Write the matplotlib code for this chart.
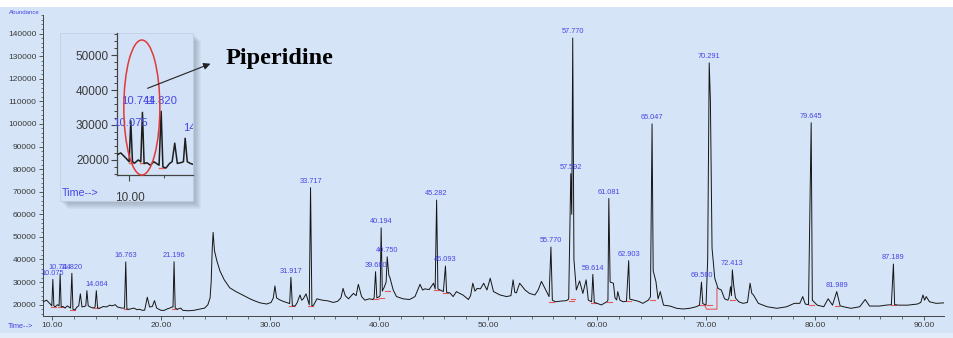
import matplotlib
matplotlib.use('Agg')
import matplotlib.pyplot as plt
import numpy as np
from matplotlib.patches import Rectangle, Ellipse, FancyArrowPatch
from matplotlib import font_manager as fm
from matplotlib.ticker import MultipleLocator, FixedLocator, FuncFormatter

# ---------------- data ----------------
trace = [
    (9.2, 21300), (9.5, 22000), (9.8, 20500), (9.98, 19500), (10.075, 31200), (10.17, 19500),
    (10.3, 19100), (10.5, 20000), (10.65, 19500), (10.744, 33600), (10.84, 19000), (11.0, 19200),
    (11.2, 18500), (11.4, 19500), (11.7, 18500), (11.82, 33900), (11.92, 18000), (12.1, 17700),
    (12.3, 19000), (12.45, 19500), (12.6, 24800), (12.75, 19000), (13.0, 19300), (13.1, 19500),
    (13.2, 26200), (13.32, 19500), (13.5, 19000), (13.8, 18500), (13.95, 19000), (14.064, 26200),
    (14.18, 18500), (14.4, 18500), (14.7, 19200), (15.0, 19000), (15.3, 19800), (15.5, 19500),
    (15.8, 20000), (16.0, 19000), (16.4, 18500), (16.65, 18500), (16.763, 38900), (16.87, 18000),
    (17.1, 18000), (17.5, 18500), (17.8, 17800), (18.0, 18000), (18.3, 17500), (18.5, 17600),
    (18.74, 23300), (18.95, 19000), (19.2, 19200), (19.4, 21800), (19.6, 18500), (19.8, 18000),
    (20.0, 17500), (20.3, 17500), (20.5, 18000), (20.8, 18500), (21.0, 19000), (21.1, 19000),
    (21.196, 39000), (21.3, 18500), (21.5, 18000), (21.8, 18500), (22.0, 17500), (22.5, 17300),
    (23.0, 17500), (23.5, 18000), (24.0, 18500), (24.3, 20000), (24.5, 23000), (24.6, 30000),
    (24.7, 45000), (24.78, 52000), (24.9, 44000), (25.1, 39800), (25.4, 35000), (25.8, 31000),
    (26.3, 27500), (26.8, 26000), (27.2, 25000), (27.8, 23500), (28.2, 22500), (28.7, 21500),
    (29.1, 20800), (29.7, 20300), (30.1, 21000), (30.3, 23000), (30.45, 28300), (30.6, 23000),
    (30.9, 22100), (31.2, 21500), (31.5, 21000), (31.8, 20500), (31.917, 32100), (32.05, 19500),
    (32.3, 19400), (32.5, 21000), (32.75, 24300), (32.9, 22000), (33.05, 22600), (33.3, 24800),
    (33.5, 21500), (33.6, 20000), (33.717, 71800), (33.84, 19500), (34.0, 19800), (34.3, 22600),
    (34.8, 22000), (35.3, 21700), (35.8, 21000), (36.2, 21500), (36.5, 23000), (36.7, 27200),
    (36.9, 24000), (37.2, 22600), (37.65, 25000), (37.9, 24000), (38.1, 29000), (38.4, 23600),
    (38.7, 22000), (39.1, 22600), (39.4, 22300), (39.55, 23000), (39.68, 34600), (39.8, 23000),
    (40.0, 23500), (40.1, 24000), (40.194, 54000), (40.3, 26000), (40.5, 28000), (40.65, 30000),
    (40.75, 41200), (40.9, 33000), (41.0, 32000), (41.3, 26500), (41.6, 23600), (42.2, 22600),
    (42.8, 22300), (43.3, 23600), (43.76, 29000), (44.0, 26500), (44.2, 27000), (44.6, 26700),
    (45.0, 29500), (45.15, 27000), (45.282, 66300), (45.4, 27000), (45.6, 26500), (45.9, 25800),
    (46.093, 37100), (46.2, 25500), (46.5, 25200), (46.8, 23600), (47.1, 25800), (47.4, 25000),
    (47.7, 24300), (48.2, 22300), (48.4, 24000), (48.6, 29500), (48.8, 26000), (49.0, 27200),
    (49.3, 27000), (49.6, 29500), (49.9, 26500), (50.2, 31700), (50.5, 25800), (51.1, 24300),
    (51.7, 23600), (52.1, 24000), (52.3, 31000), (52.45, 25500), (52.6, 25200), (52.9, 29500),
    (53.4, 26500), (53.8, 25000), (54.3, 24300), (54.6, 26500), (54.9, 30300), (55.3, 26500),
    (55.6, 23600), (55.77, 45500), (55.9, 22000), (56.2, 21300), (56.7, 21600), (57.2, 21800),
    (57.4, 22500), (57.592, 78000), (57.68, 60000), (57.77, 138000), (57.88, 40000), (58.1, 26500),
    (58.4, 30500), (58.7, 25000), (59.0, 31000), (59.2, 22000), (59.5, 21300), (59.614, 33400),
    (59.75, 21000), (60.0, 20600), (60.4, 19900), (60.9, 21300), (61.0, 22000), (61.081, 67000),
    (61.2, 30000), (61.5, 29500), (61.65, 23000), (61.8, 22100), (61.9, 25800), (62.1, 22000),
    (62.4, 21300), (62.7, 21500), (62.903, 39500), (63.0, 22500), (63.3, 22100), (63.8, 21500),
    (64.2, 20600), (64.7, 22000), (64.9, 23500), (65.047, 100000), (65.15, 35000), (65.4, 30300),
    (65.6, 22600), (65.8, 25800), (66.1, 19800), (66.7, 19400), (67.3, 18400), (67.9, 18100),
    (68.5, 18400), (69.1, 19100), (69.4, 19800), (69.58, 30000), (69.7, 20500), (70.0, 19800),
    (70.15, 40000), (70.291, 127000), (70.4, 110000), (70.55, 45000), (70.8, 31700), (71.1, 27200),
    (71.4, 26500), (71.7, 22600), (72.0, 22000), (72.1, 23000), (72.25, 28000), (72.33, 24000),
    (72.413, 35400), (72.55, 28000), (72.7, 23000), (73.0, 21300), (73.4, 20600), (73.8, 21000),
    (74.04, 29500), (74.2, 25000), (74.35, 24300), (74.8, 20600), (75.6, 19100), (76.5, 18400),
    (77.4, 19100), (78.1, 20600), (78.6, 20600), (78.87, 23600), (79.1, 20300), (79.4, 20000),
    (79.645, 100500), (79.75, 22000), (80.2, 19800), (80.8, 19100), (81.2, 22600), (81.6, 19800),
    (81.989, 25800), (82.3, 19500), (82.6, 19100), (83.3, 18400), (84.1, 19100), (84.6, 22300),
    (85.0, 19400), (85.9, 19400), (86.5, 19800), (87.0, 20000), (87.189, 38000), (87.3, 20000),
    (87.7, 19800), (88.5, 19800), (89.4, 20300), (89.7, 21000), (89.9, 24300), (90.05, 22000),
    (90.2, 23600), (90.5, 21300), (91.1, 20600), (91.8, 20800),
]
trace_time = [p[0] for p in trace]
trace_abund = [p[1] for p in trace]

peak_labels = ['10.075', '10.744', '11.820', '14.064', '16.763', '21.196', '31.917', '33.717',
               '39.680', '40.194', '40.750', '45.282', '46.093', '55.770', '57.592', '57.770',
               '59.614', '61.081', '62.903', '65.047', '69.580', '70.291', '72.413', '79.645',
               '81.989', '87.189']
peak_rt = [float(s) for s in peak_labels]
peak_top = [31200, 33600, 33900, 26200, 38900, 39000, 32100, 71800,
            34600, 54000, 41200, 66300, 37100, 45500, 78000, 138000,
            33400, 67000, 39500, 100000, 30000, 127000, 35400, 100500,
            25800, 38000]

inset_labels = ['10.075', '10.744', '11.820', '14.064']
inset_top = [31200, 33600, 33900, 26200]

y_ticks = [20000, 30000, 40000, 50000, 60000, 70000, 80000, 90000, 100000,
           110000, 120000, 130000, 140000]
x_ticks = [10, 20, 30, 40, 50, 60, 70, 80, 90]
inset_y_ticks = [20000, 30000, 40000, 50000]

# ---------------- styling ----------------
W, H = 954, 338
fig = plt.figure(figsize=(W / 100, H / 100), dpi=100)
fig.patch.set_facecolor('white')

names = {f.name for f in fm.fontManager.ttflist}
if 'Liberation Sans Narrow' in names:
    NARROW, NSCALE = ['Liberation Sans Narrow', 'DejaVu Sans'], 1.0
else:
    NARROW, NSCALE = ['Liberation Sans', 'DejaVu Sans'], 0.85
SANS = ['Liberation Sans', 'DejaVu Sans']
BLUE = '#4646e4'
TICKC = '#3a3a3a'
RED = '#e85a5a'


def fx(px):
    return px / W


def fy(py):
    return 1 - py / H


# background bands
fig.add_artist(Rectangle((0, fy(333)), 1, fy(7) - fy(333), transform=fig.transFigure,
                         facecolor='#d5e4f7', edgecolor='none', zorder=-2))
fig.add_artist(Rectangle((0, 0), 1, fy(333), transform=fig.transFigure,
                         facecolor='#e3edf9', edgecolor='none', zorder=-2))

# ---------------- main chromatogram ----------------
ax = fig.add_axes([fx(43.3), fy(315.5), fx(944) - fx(43.3), fy(15) - fy(315.5)], zorder=1)
ax.set_facecolor('none')
ax.plot(trace_time, trace_abund, color='#151515', lw=0.7, zorder=3)
ax.set_xlim(9.2, 91.83)
ax.set_ylim(15220, 148190)
for s in ['top', 'right']:
    ax.spines[s].set_visible(False)
for s in ['left', 'bottom']:
    ax.spines[s].set_color('#444444')
    ax.spines[s].set_linewidth(0.7)

ax.xaxis.set_major_locator(FixedLocator(x_ticks))
ax.xaxis.set_major_formatter(FuncFormatter(lambda v, p: f'{v:.2f}'))
ax.xaxis.set_minor_locator(MultipleLocator(2))
ax.yaxis.set_major_locator(FixedLocator(y_ticks))
ax.yaxis.set_major_formatter(FuncFormatter(lambda v, p: f'{int(v)}'))
ax.yaxis.set_minor_locator(MultipleLocator(2000))
ax.tick_params(which='major', direction='out', length=3, width=0.6, color='#444444',
               labelsize=6, labelcolor=TICKC, pad=2)
ax.tick_params(which='minor', direction='out', length=1.8, width=0.5, color='#444444')
for lab in ax.get_xticklabels() + ax.get_yticklabels():
    lab.set_family(SANS)

# integration marks (flat segments at the local baseline under each labelled peak)
tt = np.array(trace_time)
aa = np.array(trace_abund)


def local_base(rt, half=0.45):
    m = (tt >= rt - half) & (tt <= rt + half)
    return aa[m].min()


for rt in peak_rt:
    b = local_base(rt)
    ax.plot([rt - 0.2, rt + 0.25], [b, b], color=RED, lw=0.8, zorder=2)
ax.plot([69.9, 70.05, 71.0, 71.0], [19500, 18000, 18000, 27400], color=RED, lw=0.8, zorder=2)

# peak labels
for lab, rt, top in zip(peak_labels, peak_rt, peak_top):
    ax.annotate(lab, (rt, top), xytext=(0, 2), textcoords='offset points', ha='center',
                va='bottom', fontsize=6.3 * NSCALE, color=BLUE, family=NARROW, zorder=4)

fig.text(fx(9), fy(13), 'Abundance', fontsize=5.2 * NSCALE, color=BLUE, family=NARROW,
         ha='left', va='center')
fig.text(fx(7.5), fy(327), 'Time-->', fontsize=6.3 * NSCALE, color=BLUE, family=NARROW,
         ha='left', va='center')

# ---------------- inset panel ----------------
for k in range(1, 9):
    fig.add_artist(Rectangle((fx(60 + k), fy(201 + k)), fx(133), 168 / H,
                             transform=fig.transFigure, facecolor='#6d7a8a',
                             edgecolor='none', alpha=0.07, zorder=2))
panel = Rectangle((fx(60), fy(201)), fx(133), 168 / H, transform=fig.transFigure,
                  facecolor='#d3e2f6', edgecolor='#c0cde0', lw=0.5, zorder=2.1)
fig.add_artist(panel)

ax2 = fig.add_axes([fx(117.3), fy(175), fx(193) - fx(117.3), fy(33) - fy(175)], zorder=3)
ax2.set_facecolor('none')
ax2.plot(trace_time, trace_abund, color='#1d1d1d', lw=1.1, zorder=3)
ax2.set_xlim(9.3, 13.65)
ax2.set_ylim(15700, 56300)
for s in ['top', 'right']:
    ax2.spines[s].set_visible(False)
for s in ['left', 'bottom']:
    ax2.spines[s].set_color('#444444')
    ax2.spines[s].set_linewidth(0.9)
ax2.xaxis.set_major_locator(FixedLocator([10]))
ax2.xaxis.set_major_formatter(FuncFormatter(lambda v, p: f'{v:.2f}'))
ax2.xaxis.set_minor_locator(FixedLocator([12]))
ax2.yaxis.set_major_locator(FixedLocator(inset_y_ticks))
ax2.yaxis.set_major_formatter(FuncFormatter(lambda v, p: f'{int(v)}'))
ax2.yaxis.set_minor_locator(MultipleLocator(2000))
ax2.tick_params(which='major', direction='out', length=4, width=0.8, color='#444444',
                labelsize=8.5, labelcolor=TICKC, pad=2)
ax2.tick_params(axis='x', which='major', pad=8)
ax2.tick_params(which='minor', direction='out', length=2.5, width=0.7, color='#444444')
for lab in ax2.get_xticklabels() + ax2.get_yticklabels():
    lab.set_family(SANS)

for rt in peak_rt[:4]:
    b = local_base(rt, 0.3)
    ax2.plot([rt - 0.12, rt + 0.15], [b, b], color=RED, lw=1.0, zorder=2)

inset_offsets = [(0, -5), (-3, 4.8), (-1, 3.6), (0, 3.6)]
for lab, top, off in zip(inset_labels, inset_top, inset_offsets):
    t = ax2.annotate(lab, (float(lab), top), xytext=off, textcoords='offset points',
                     ha='center', va='bottom', fontsize=9.5 * NSCALE, color=BLUE,
                     family=NARROW, zorder=4, annotation_clip=False)
    t.set_clip_on(True)
    t.set_clip_path(panel)

ax2.add_patch(Ellipse((10.71, 35000), 2.07, 38600, fill=False, edgecolor='#e03a3a', lw=1.1,
                      clip_on=False, zorder=5))

fig.text(fx(62), fy(193), 'Time-->', fontsize=9 * NSCALE, color=BLUE, family=NARROW,
         ha='left', va='center', zorder=5)

# arrow and annotation
fig.add_artist(FancyArrowPatch((fx(145), fy(89.3)), (fx(213), fy(62.7)),
                               transform=fig.transFigure, arrowstyle='-|>',
                               mutation_scale=10, color='#222222', lw=0.8, zorder=6))
fig.text(fx(226), fy(64), 'Piperidine', family=['Liberation Serif', 'DejaVu Serif'],
         weight='bold', fontsize=17.5, color='black', ha='left', va='baseline', zorder=6)

fig.savefig('out.png', dpi=100, facecolor=fig.get_facecolor())
